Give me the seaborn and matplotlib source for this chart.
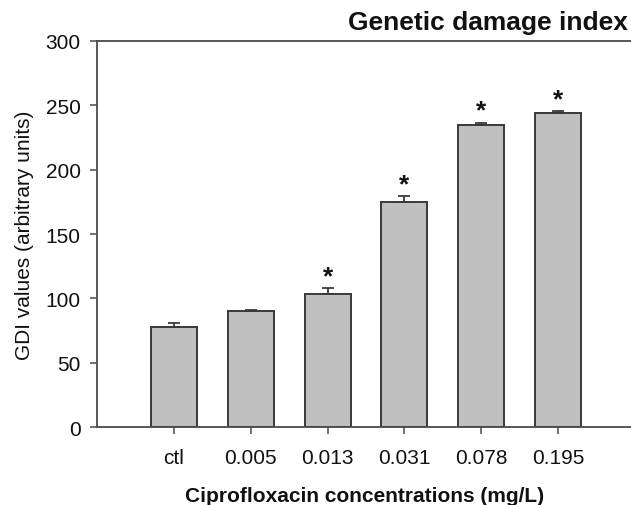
"""
Genetic damage index bar chart (ciprofloxacin concentrations).
"""

import numpy as np
import pandas as pd
import matplotlib
matplotlib.use("Agg")
import matplotlib.pyplot as plt
import seaborn as sns

# data
concentrations = ["ctl", "0.005", "0.013", "0.031", "0.078", "0.195"]
gdi_values = [77.5, 90.5, 103.5, 175.0, 235.0, 244.0]
gdi_errors = [3.5, 0.5, 4.5, 4.5, 1.5, 1.5]
significant = [False, False, True, True, True, True]

df = pd.DataFrame({"conc": concentrations, "gdi": gdi_values})

sns.set_style("ticks")
plt.rcParams["font.family"] = ["Liberation Sans", "DejaVu Sans"]

fig = plt.figure(figsize=(6.31, 5.06), dpi=100)
ax = fig.add_axes([0.154, 0.154, 0.846, 0.763])

sns.barplot(
    data=df, x="conc", y="gdi", order=concentrations,
    color="#c0c0c0", edgecolor="#3a3a3a", linewidth=1.4,
    width=0.6, saturation=1, errorbar=None, ax=ax,
)

xpos = np.arange(len(concentrations))
errs = np.array(gdi_errors)
ax.errorbar(
    xpos, gdi_values, yerr=[np.zeros_like(errs), errs],
    fmt="none", ecolor="#3a3a3a", elinewidth=1.3, capsize=4.5, capthick=1.3,
)

# significance stars above the error bars
for x, v, e, s in zip(xpos, gdi_values, gdi_errors, significant):
    if s:
        ax.annotate("*", (x, v + e), xytext=(0, 0), textcoords="offset points",
                    ha="center", va="bottom", fontsize=19, fontweight="bold",
                    color="#111")

ax.set_xlim(-1.0, 5.95)
ax.set_ylim(0, 300)
ax.set_yticks([0, 50, 100, 150, 200, 250, 300])

for side in ["left", "bottom", "top"]:
    ax.spines[side].set_color("#4a4a4a")
    ax.spines[side].set_linewidth(1.3)
ax.spines["right"].set_visible(False)
ax.tick_params(axis="both", direction="out", length=5, width=1.1,
               color="#4a4a4a", labelsize=15, labelcolor="#111")
ax.tick_params(axis="x", pad=10)
ax.tick_params(axis="y", pad=7)

ax.set_xlabel("Ciprofloxacin concentrations (mg/L)", fontsize=15,
              fontweight="bold", labelpad=14, color="#111")
ax.set_ylabel("GDI values (arbitrary units)", fontsize=15, color="#111",
              labelpad=8)

fig.text(0.995, 1 - 30 / 506, "Genetic damage index", ha="right",
         va="baseline", fontsize=19, fontweight="bold", color="#111")

fig.savefig("out.png", dpi=100)
